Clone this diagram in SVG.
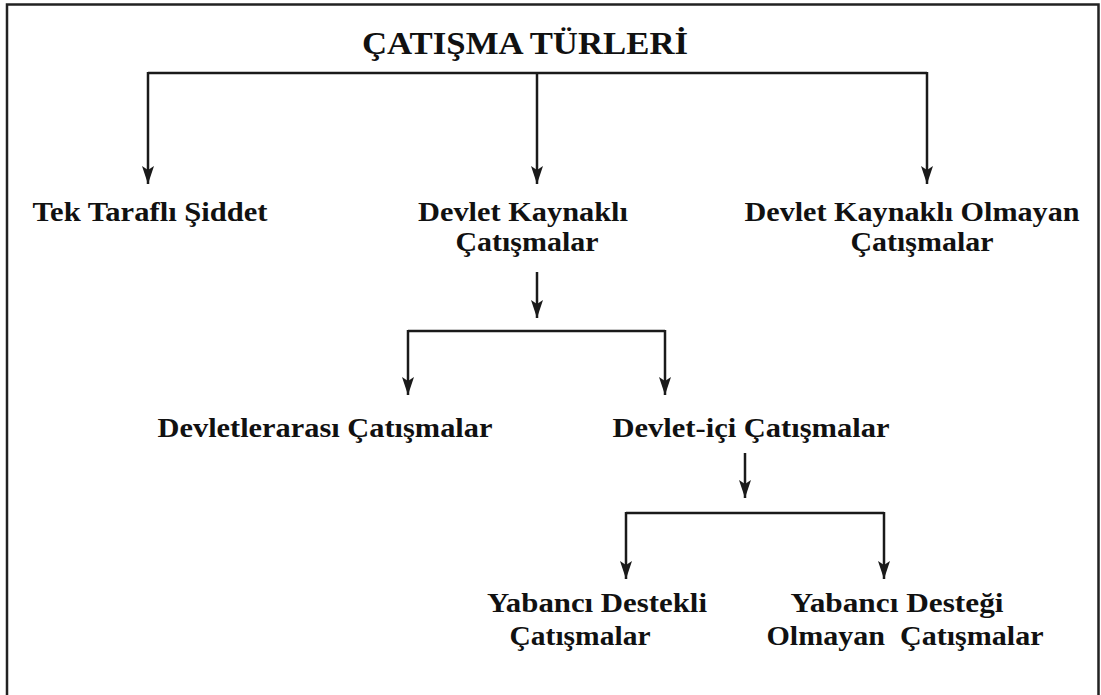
<svg xmlns="http://www.w3.org/2000/svg" width="1101" height="695" viewBox="0 0 1101 695">
<style>
.t{font-family:"Liberation Serif","Times New Roman",serif;font-weight:bold;fill:#111;text-anchor:middle}
.n{font-size:27px}
.ttl{font-size:31px}
.c{stroke:#1a1a1a;stroke-width:2.5;fill:none}
.a{marker-end:url(#ah)}
</style>
<defs>
<marker id="ah" viewBox="0 0 18 12" refX="18" refY="6" markerWidth="18" markerHeight="12" markerUnits="userSpaceOnUse" orient="auto">
<path d="M0,0 L18,6 L0,12 L4,6 z" fill="#1a1a1a"/>
</marker>
</defs>
<rect width="1101" height="695" fill="#fff"/>
<path d="M7,695 V4.5 H1098.5 V695" fill="none" stroke="#222" stroke-width="2.5"/>
<g id="connectors">
<line class="c" x1="148" y1="73" x2="927" y2="73"/>
<line class="c a" x1="148" y1="72" x2="148" y2="184"/>
<line class="c a" x1="537" y1="73" x2="537" y2="184"/>
<line class="c a" x1="927" y1="72" x2="927" y2="184"/>
<line class="c a" x1="537" y1="272" x2="537" y2="318"/>
<line class="c" x1="408" y1="331" x2="665" y2="331"/>
<line class="c a" x1="408" y1="330" x2="408" y2="395"/>
<line class="c a" x1="665" y1="330" x2="665" y2="395"/>
<line class="c a" x1="745" y1="453" x2="745" y2="498"/>
<line class="c" x1="626" y1="513" x2="884" y2="513"/>
<line class="c a" x1="626" y1="512" x2="626" y2="579"/>
<line class="c a" x1="884" y1="512" x2="884" y2="579"/>
</g>
<g id="root"><text class="t ttl" x="525" y="54" textLength="326" lengthAdjust="spacingAndGlyphs">ÇATIŞMA TÜRLERİ</text></g>
<g id="tek"><text class="t n" x="150" y="221" textLength="235" lengthAdjust="spacingAndGlyphs">Tek Taraflı Şiddet</text></g>
<g id="devlet"><text class="t n" x="523" y="221" textLength="210" lengthAdjust="spacingAndGlyphs">Devlet Kaynaklı</text><text class="t n" x="527" y="251" textLength="143" lengthAdjust="spacingAndGlyphs">Çatışmalar</text></g>
<g id="devletdisi"><text class="t n" x="912" y="221" textLength="335" lengthAdjust="spacingAndGlyphs">Devlet Kaynaklı Olmayan</text><text class="t n" x="922" y="251" textLength="143" lengthAdjust="spacingAndGlyphs">Çatışmalar</text></g>
<g id="devletlerarasi"><text class="t n" x="325" y="437" textLength="335" lengthAdjust="spacingAndGlyphs">Devletlerarası Çatışmalar</text></g>
<g id="devletici"><text class="t n" x="751" y="437" textLength="277" lengthAdjust="spacingAndGlyphs">Devlet-içi Çatışmalar</text></g>
<g id="yabanci"><text class="t n" x="597" y="612" textLength="220" lengthAdjust="spacingAndGlyphs">Yabancı Destekli</text><text class="t n" x="580" y="645" textLength="141" lengthAdjust="spacingAndGlyphs">Çatışmalar</text></g>
<g id="yabancisiz"><text class="t n" x="897" y="612" textLength="213" lengthAdjust="spacingAndGlyphs">Yabancı Desteği</text><text class="t n" x="905" y="645" textLength="277" lengthAdjust="spacingAndGlyphs" xml:space="preserve">Olmayan  Çatışmalar</text></g>
</svg>
